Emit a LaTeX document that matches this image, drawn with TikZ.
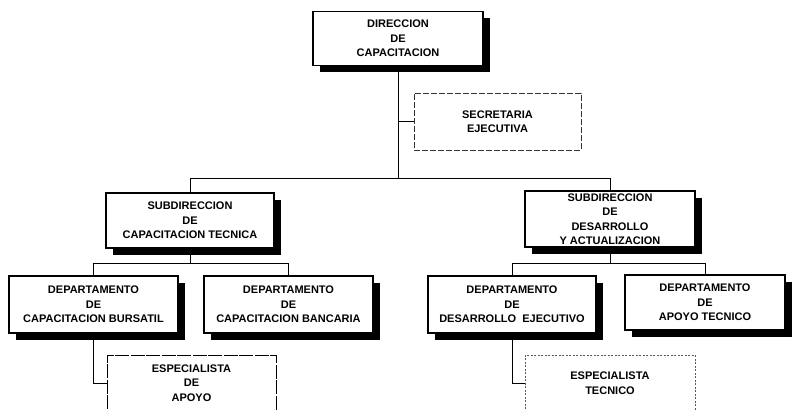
\documentclass[tikz,border=0pt]{standalone}
\usepackage{fontspec}
\setmainfont{Liberation Sans}
\usetikzlibrary{shadows}
\begin{document}
\begin{tikzpicture}[x=1pt,y=-1pt,
  every node/.style={font=\fontsize{11}{14.5}\selectfont\bfseries, align=center, inner sep=0pt},
  solidbox/.style={draw=black, line width=1.2pt, fill=white, minimum width=#1pt, minimum height=56pt,
    drop shadow={shadow xshift=6.5pt, shadow yshift=-6.5pt, opacity=1, fill=black}},
  dashbox/.style={draw=black!80, line width=0.6pt, dash pattern=on 6pt off 2pt, fill=white, minimum width=#1pt, minimum height=57pt},
  apoyobox/.style={draw=black, line width=0.6pt, dash pattern=on 14pt off 1.5pt, fill=white, minimum width=#1pt, minimum height=56pt},
  dotbox/.style={draw=black!65, line width=0.6pt, dash pattern=on 2pt off 1.5pt, fill=white, minimum width=#1pt, minimum height=56pt},
  conn/.style={draw=black, line width=1pt}]
\useasboundingbox[fill=white] (0,0) rectangle (795,410);

\node[solidbox=170, minimum height=54pt] (dir) at (398,38.5) {DIRECCION\\DE\\CAPACITACION};
\node[dashbox=167] (sec) at (497.5,121.5) {SECRETARIA\\EJECUTIVA};

\node[solidbox=168, minimum height=55pt] (subA) at (190,220.5) {SUBDIRECCION\\DE\\CAPACITACION TECNICA};
\node[solidbox=170] (subB) at (610,219) {SUBDIRECCION\\DE\\DESARROLLO\\Y ACTUALIZACION};

\node[solidbox=169, minimum height=57pt] (dA1) at (93.5,304.5) {DEPARTAMENTO\\DE\\CAPACITACION BURSATIL};
\node[solidbox=169, minimum height=57pt] (dA2) at (288.5,304.5) {DEPARTAMENTO\\DE\\CAPACITACION BANCARIA};
\node[solidbox=168, minimum height=57pt] (dB1) at (512,304.5) {DEPARTAMENTO\\DE\\DESARROLLO\ \ EJECUTIVO};
\node[solidbox=160, minimum height=55pt] (dB2) at (705,302.5) {DEPARTAMENTO\\DE\\APOYO TECNICO};

\node[apoyobox=169] (eA) at (191.5,383) {ESPECIALISTA\\DE\\APOYO};
\node[dotbox=170] (eB) at (610,383) {ESPECIALISTA\\TECNICO};

\draw[conn] (dir.south) -- ++(0,112) coordinate (j0);
\draw[conn] (subA.north) |- (j0) -| (subB.north);
\draw[conn] (sec.west) -- (sec.west -| dir.south);

\draw[conn] (subA.south) -- ++(0,15) coordinate (jA);
\draw[conn] (dA1.north) |- (jA) -| (dA2.north);
\draw[conn] (subB.south) -- ++(0,16) coordinate (jB);
\draw[conn] (dB1.north) |- (jB) -| (dB2.north);

\draw[conn] (dA1.south) |- (eA.west);
\draw[conn] (dB1.south) |- (eB.west);
\end{tikzpicture}
\end{document}
